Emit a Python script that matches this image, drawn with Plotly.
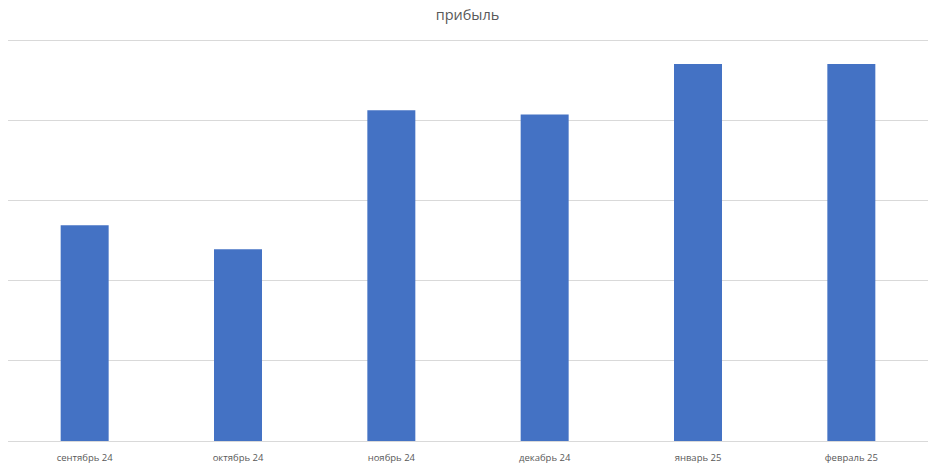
import plotly.graph_objects as go

months = ["сентябрь 24", "октябрь 24", "ноябрь 24", "декабрь 24", "январь 25", "февраль 25"]
profit = [2.69, 2.39, 4.125, 4.07, 4.70, 4.70]

fig = go.Figure(go.Bar(x=months, y=profit, marker=dict(color="#4472c4", line=dict(width=0))))

fig.update_layout(
    width=935, height=471,
    margin=dict(l=8, r=7, t=38, b=27),
    paper_bgcolor="white", plot_bgcolor="white",
    bargap=0.687,
    title=dict(text="прибыль", x=0.5, xanchor="center", y=0.968, yanchor="middle",
               font=dict(family="Open Sans", size=14.5, color="#595959")),
    font=dict(family="Open Sans", color="#595959"),
    showlegend=False,
)
fig.update_xaxes(range=[-0.5, 5.5], showgrid=False, showline=True, linecolor="#d9d9d9", linewidth=1,
                 ticks="", ticklabelstandoff=8, tickfont=dict(size=9.5, color="#595959"))
fig.update_yaxes(range=[0, 5.025], tickvals=[1, 2, 3, 4, 5], showticklabels=False, showgrid=True,
                 gridcolor="#d9d9d9", gridwidth=1, zeroline=False, showline=False)

fig.write_html("out.html", config={"displayModeBar": False},
               post_script="document.body.style.margin='0';document.body.style.overflow='hidden';")
